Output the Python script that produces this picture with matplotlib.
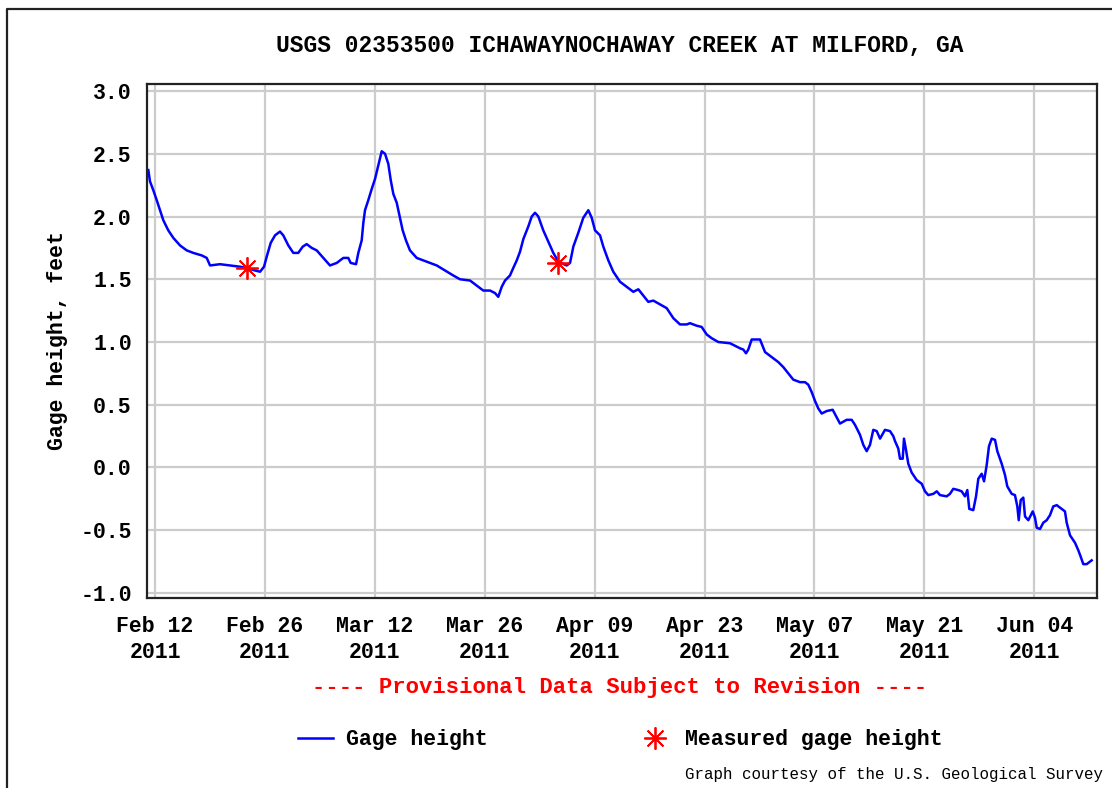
# USGS hydrograph - Ichawaynochaway Creek at Milford, GA
import matplotlib
matplotlib.use("Agg")
import matplotlib.pyplot as plt
import matplotlib.dates as mdates
from matplotlib.lines import Line2D
from datetime import datetime, timedelta

# dados (dias desde 12 fev 2011, altura em pes)
dias = [-0.85, -0.64, -0.22, 0.22, 0.64, 1.06, 1.69, 2.33, 3.18, 4.04, 4.88, 5.95, 6.59, 7.01,
        8.28, 9.55, 10.83, 11.68, 12.74, 13.38, 13.89, 14.23, 14.74, 15.29, 15.92, 16.34, 16.98,
        17.62, 18.25, 18.82, 19.32, 19.96, 20.6, 21.44, 22.29, 23.15, 23.99, 24.62, 24.93, 25.61,
        25.9, 26.33, 26.54, 26.75, 27.17, 27.61, 28.03, 28.45, 28.88, 29.3, 29.72, 30.03, 30.36,
        30.79, 31.21, 31.55, 31.97, 32.48, 33.34, 34.18, 35.03, 35.89, 36.94, 38.0, 38.85, 40.13,
        40.98, 41.82, 42.68, 43.31, 43.73, 44.17, 44.59, 45.22, 45.64, 46.08, 46.5, 46.92, 47.55,
        47.99, 48.41, 48.83, 49.46, 50.1, 50.74, 51.38, 52.45, 52.87, 53.29, 53.92, 54.56, 55.2,
        55.63, 56.05, 56.69, 57.11, 57.75, 58.38, 59.24, 60.09, 60.93, 61.57, 62.2, 62.84, 63.48,
        64.33, 65.18, 66.03, 66.88, 67.73, 68.15, 69.0, 69.64, 70.28, 70.92, 71.76, 73.25, 73.89,
        74.52, 74.94, 75.29, 75.58, 76.01, 77.07, 77.71, 78.56, 79.4, 80.04, 80.68, 81.31, 82.17,
        82.8, 83.22, 83.66, 84.08, 84.5, 84.93, 85.57, 86.33, 86.84, 87.26, 88.11, 88.75, 89.17,
        89.81, 90.23, 90.66, 91.08, 91.5, 91.94, 92.36, 92.99, 93.63, 94.05, 94.27, 94.69, 94.9,
        95.25, 95.41, 95.67, 95.96, 96.39, 97.03, 97.67, 98.09, 98.51, 99.15, 99.59, 100.0,
        100.85, 101.27, 101.69, 102.33, 102.76, 103.18, 103.48, 103.73, 104.24, 104.59, 104.88,
        105.31, 105.61, 105.95, 106.24, 106.59, 107.01, 107.3, 107.86, 108.28, 108.57, 109.13,
        109.55, 109.85, 110.03, 110.28, 110.61, 110.83, 111.25, 111.81, 112.1, 112.32, 112.74,
        113.16, 113.59, 114.01, 114.43, 114.87, 115.5, 115.92, 116.14, 116.56, 117.2, 117.62,
        117.92, 118.25, 118.69, 119.32]
altura = [2.37, 2.28, 2.21, 2.13, 2.05, 1.97, 1.89, 1.83, 1.77, 1.73, 1.71, 1.69, 1.67, 1.61,
          1.62, 1.61, 1.60, 1.59, 1.57, 1.56, 1.60, 1.68, 1.79, 1.85, 1.88, 1.85, 1.77,
          1.71, 1.71, 1.76, 1.78, 1.75, 1.73, 1.67, 1.61, 1.63, 1.67, 1.67, 1.63, 1.62,
          1.71, 1.81, 1.95, 2.05, 2.13, 2.22, 2.30, 2.41, 2.52, 2.50, 2.42, 2.29, 2.18,
          2.11, 1.99, 1.89, 1.81, 1.73, 1.67, 1.65, 1.63, 1.61, 1.57, 1.53, 1.50, 1.49,
          1.45, 1.41, 1.41, 1.39, 1.36, 1.44, 1.49, 1.53, 1.59, 1.65, 1.72, 1.82, 1.92,
          2.00, 2.03, 2.00, 1.89, 1.80, 1.71, 1.64, 1.61, 1.63, 1.76, 1.87, 1.99, 2.05,
          1.99, 1.89, 1.85, 1.76, 1.65, 1.56, 1.48, 1.44, 1.40, 1.42, 1.37, 1.32, 1.33,
          1.30, 1.27, 1.19, 1.14, 1.14, 1.15, 1.13, 1.12, 1.06, 1.03, 1.00, 0.99, 0.97,
          0.95, 0.94, 0.91, 0.94, 1.02, 1.02, 0.92, 0.88, 0.84, 0.80, 0.75, 0.70, 0.68,
          0.68, 0.66, 0.60, 0.53, 0.47, 0.43, 0.45, 0.46, 0.40, 0.35, 0.38, 0.38, 0.34,
          0.26, 0.18, 0.13, 0.18, 0.30, 0.29, 0.23, 0.30, 0.29, 0.25, 0.21, 0.15, 0.07,
          0.07, 0.23, 0.14, 0.03, -0.04, -0.10, -0.13, -0.19, -0.22, -0.21, -0.19, -0.22,
          -0.23, -0.21, -0.17, -0.18, -0.19, -0.23, -0.18, -0.33, -0.34, -0.23, -0.09,
          -0.05, -0.11, 0.02, 0.17, 0.23, 0.22, 0.13, 0.03, -0.06, -0.15, -0.21,
          -0.22, -0.31, -0.42, -0.26, -0.24, -0.39, -0.42, -0.35, -0.40, -0.48, -0.49,
          -0.44, -0.42, -0.38, -0.31, -0.30, -0.33, -0.35, -0.44, -0.54, -0.60, -0.66,
          -0.71, -0.77, -0.77, -0.74]

# medicoes de campo
dias_medido = [11.7, 51.3]
altura_medido = [1.59, 1.63]

inicio = datetime(2011, 2, 12)
datas = [inicio + timedelta(days=d) for d in dias]
datas_medido = [inicio + timedelta(days=d) for d in dias_medido]

fonte = "Liberation Mono"

fig = plt.figure(figsize=(11.12, 7.88), dpi=100)
ax = fig.add_axes([147 / 1112, 1 - 598 / 788, 950 / 1112, 514 / 788])

linha, = ax.plot(datas, altura, color="#0000ff", lw=1.8, label="Gage height")
estrela, = ax.plot(datas_medido, altura_medido, linestyle="none", marker=(8, 2, 0),
                   markersize=16, markeredgewidth=1.3, color="#ff0000",
                   label="Measured gage height")

ax.set_xlim(inicio - timedelta(days=1.02), inicio + timedelta(days=120))
ax.set_ylim(-1.04, 3.056)
ax.set_yticks([-1.0, -0.5, 0.0, 0.5, 1.0, 1.5, 2.0, 2.5, 3.0])
ax.yaxis.set_major_formatter(plt.FormatStrFormatter("%.1f"))
ax.set_xticks([inicio + timedelta(days=14 * k) for k in range(9)])
ax.xaxis.set_major_formatter(mdates.DateFormatter("%b %d\n%Y"))

ax.grid(True, color="#cccccc", lw=1.6)
ax.set_axisbelow(True)
for s in ax.spines.values():
    s.set_linewidth(1.6)
    s.set_color("#222222")

ax.tick_params(length=0, labelsize=15.5, pad=11)
ax.tick_params(axis="x", pad=13)
for t in ax.get_xticklabels() + ax.get_yticklabels():
    t.set_fontfamily(fonte)
    t.set_fontweight("bold")
    t.set_linespacing(1.3)

ax.set_ylabel("Gage height, feet", fontsize=15.5, fontfamily=fonte, fontweight="bold",
              labelpad=9)

fig.text(620 / 1112, 1 - 46 / 788, "USGS 02353500 ICHAWAYNOCHAWAY CREEK AT MILFORD, GA",
         ha="center", va="center", fontsize=16.5, fontfamily=fonte, fontweight="bold")
fig.text(620 / 1112, 1 - 688 / 788, "---- Provisional Data Subject to Revision ----",
         ha="center", va="center", fontsize=16, fontfamily=fonte, fontweight="bold",
         color="#ff0000")
fig.text(685 / 1112, 1 - 775 / 788, "Graph courtesy of the U.S. Geological Survey",
         ha="left", va="center", fontsize=11.4, fontfamily=fonte)

fig.legend(handles=[linha, estrela], loc="center", bbox_to_anchor=(620.5 / 1112, 1 - 740 / 788),
           ncol=2, frameon=False, numpoints=1, handlelength=1.6, handletextpad=0.6,
           columnspacing=7.0, prop={"family": fonte, "weight": "bold", "size": 15.5})

# moldura externa
fig.add_artist(Line2D([7 / 1112, 7 / 1112, 1.0], [0.0, 1 - 9 / 788, 1 - 9 / 788],
                      transform=fig.transFigure, color="#222222", lw=1.6))

fig.savefig("out.png", dpi=100)
